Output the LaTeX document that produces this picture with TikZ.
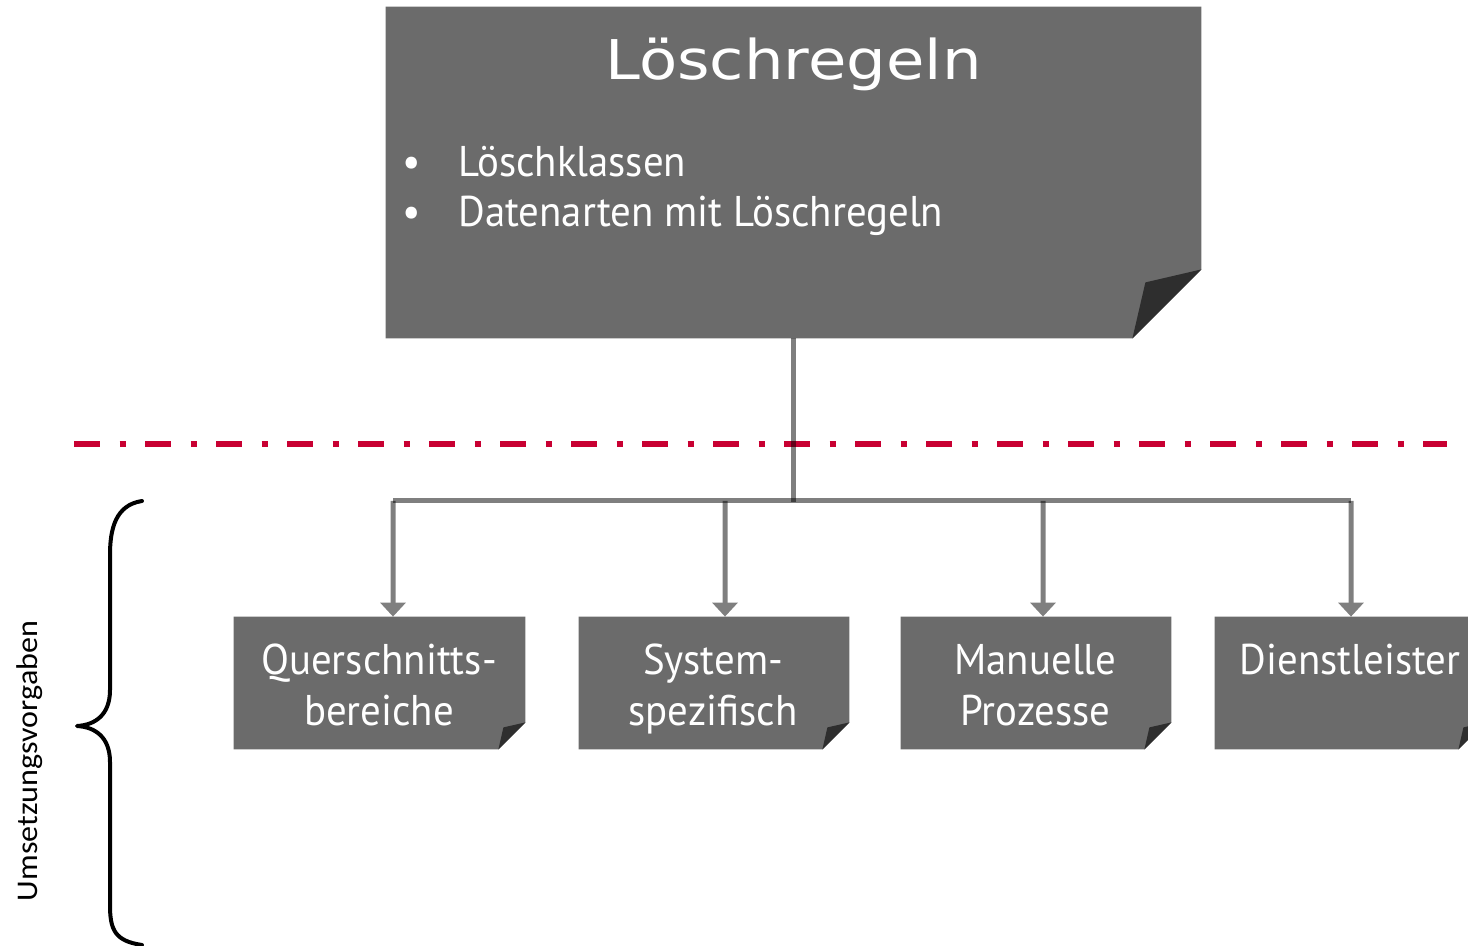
\documentclass[tikz,border=0pt]{standalone}
\usepackage{fontspec}
\setmainfont{PT Sans}[FakeStretch=0.95]
\newfontfamily\titlefont{DejaVu Sans}[FakeStretch=1.14]
\newfontfamily\labelfont{Carlito}[FakeStretch=1.07]
\usetikzlibrary{arrows.meta}
\definecolor{boxgray}{RGB}{107,107,107}
\definecolor{foldgray}{RGB}{46,46,46}
\definecolor{crimson}{RGB}{200,0,50}
\newcommand\foldbox[3]{%
  \fill[boxgray] (#1.north west) -- (#1.north east) -- ([yshift=#2]#1.south east)
     -- ([xshift=-#2]#1.south east) -- (#1.south west) -- cycle;
  \fill[foldgray] ([xshift=-#2]#1.south east) -- ([xshift=-#3,yshift=#3]#1.south east)
     -- ([yshift=#2]#1.south east) -- cycle;}
\begin{document}
\begin{tikzpicture}[x=0.5pt,y=-0.5pt,
  nbox/.style={rectangle, inner sep=0pt, minimum width=135pt, minimum height=66pt},
  boxtext/.style={text=white, inner sep=0pt, anchor=base, font=\fontsize{21.5pt}{25pt}\selectfont},
  bullettext/.style={text=white, inner sep=0pt, anchor=base west, font=\fontsize{21.5pt}{25pt}\selectfont},
  titletext/.style={text=white, inner sep=0pt, anchor=base, font=\titlefont\fontsize{27.4pt}{30pt}\selectfont},
  conn/.style={draw=black, opacity=0.5, line width=2.5pt},
  arr/.style={draw=black, line width=2.5pt, -{Triangle[width=12.5pt,length=7pt]}},
  redline/.style={draw=crimson, line width=3pt, dash pattern=on 13pt off 9.75pt on 3pt off 9.75pt},
  bracestyle/.style={draw=black, line width=2pt, line cap=round, line join=round}]
\useasboundingbox (0,0) rectangle (1468,946);
\clip (0,0) rectangle (1468,946);
% boxes
\node[nbox, minimum width=407.5pt, minimum height=165.5pt] (main) at (793.5,172.5) {};
\node[nbox, minimum width=145.5pt] (b1) at (379.5,683) {};
\node[nbox] (b2) at (714,683) {};
\node[nbox] (b3) at (1036,683) {};
\node[nbox] (b4) at (1350,683) {};
\foldbox{main}{34.5pt}{28pt}
\foldbox{b1}{13.5pt}{11pt}
\foldbox{b2}{13.5pt}{11pt}
\foldbox{b3}{13.5pt}{11pt}
\foldbox{b4}{13.5pt}{11pt}
% texts
\node[titletext] (title) at (793.5,80) {Löschregeln};
\node[bullettext, anchor=base] (bu1) at (412,177) {•};
\node[bullettext] (it1) at (458,177) {Löschklassen};
\node[bullettext, anchor=base] (bu2) at (412,227) {•};
\node[bullettext] (it2) at (458,227) {Datenarten mit Löschregeln};
\node[boxtext] (t1a) at (379,675) {Querschnitts-};
\node[boxtext] (t1b) at (379,725) {bereiche};
\node[boxtext] (t2a) at (713,675) {System-};
\node[boxtext] (t2b) at (713,725) {spezifisch};
\node[boxtext] (t3a) at (1035.5,675) {Manuelle};
\node[boxtext] (t3b) at (1035.5,725) {Prozesse};
\node[boxtext] (t4a) at (1350,675) {Dienstleister};
\node[rotate=90, anchor=base, inner sep=0pt, font=\labelfont\fontsize{15pt}{17pt}\selectfont] (lab) at (38,761) {Umsetzungsvorgaben};
% red dash-dot line
\coordinate (rl) at (74,444);
\coordinate (rr) at (1447,444);
\draw[redline] (rl) -- (rr);
% connectors
\coordinate (j) at (793,502);
\coordinate (h1) at (393,501);
\coordinate (h2) at (725,501);
\coordinate (h3) at (1043,501);
\coordinate (h4) at (1351,501);
\draw[conn] (main.south -| j) -- (j);
\draw[conn] (h1) -- (h4);
\begin{scope}[transparency group, opacity=0.5]
\draw[arr] (h1) -- (h1 |- b1.north);
\end{scope}
\begin{scope}[transparency group, opacity=0.5]
\draw[arr] (h2) -- (h2 |- b2.north);
\end{scope}
\begin{scope}[transparency group, opacity=0.5]
\draw[arr] (h3) -- (h3 |- b3.north);
\end{scope}
\begin{scope}[transparency group, opacity=0.5]
\draw[arr] (h4) -- (h4 |- b4.north);
\end{scope}
% brace
\coordinate (brtop) at (142,501);
\coordinate (brtip) at (77,726);
\coordinate (brbot) at (142,945);
\draw[bracestyle] (brtop) .. controls (115,505) and (110,530) .. (110,555) -- (110,690)
  .. controls (110,715) and (95,725) .. (brtip)
  .. controls (95,727) and (110,737) .. (110,762) -- (110,905)
  .. controls (110,930) and (115,941) .. (brbot);
\end{tikzpicture}
\end{document}
